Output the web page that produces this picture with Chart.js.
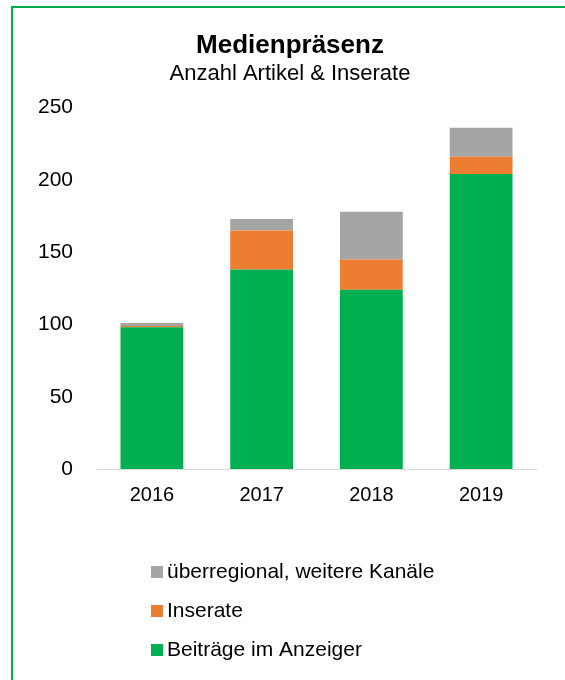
<!DOCTYPE html>
<html>
<head>
<meta charset="utf-8">
<script src="https://cdn.jsdelivr.net/npm/chart.js@4"></script>
<style>
  html, body { margin: 0; padding: 0; background: #fff; overflow: hidden; }
  #frame { position: absolute; left: 11px; top: 6px; width: 600px; height: 700px; border: 2px solid #00B050; box-sizing: border-box; }
  #c { position: absolute; left: 0; top: 0; }
</style>
</head>
<body>
<div id="frame"></div>
<canvas id="c" width="565" height="680"></canvas>
<script>
const years = ['2016', '2017', '2018', '2019'];
const beitraege = [98, 138, 124, 204];
const inserate = [1, 27, 21, 12];
const ueberregional = [2, 8, 33, 20];
const seriesNames = ['Beiträge im Anzeiger', 'Inserate', 'überregional, weitere Kanäle'];
const seriesColors = ['#00B050', '#ED7D31', '#A5A5A5'];
const yTicks = [0, 50, 100, 150, 200, 250];

const FONT = "'Liberation Sans', Arial, sans-serif";

const verticalLegend = {
  id: 'verticalLegend',
  afterLayout(chart) {
    // widen the y-axis label area so tick labels are not clipped
    chart.scales.y.left = 20;
  },
  afterDraw(chart) {
    const ctx = chart.ctx;
    const ds = chart.data.datasets.slice().reverse();
    ctx.save();
    ctx.font = '21px ' + FONT;
    ctx.textBaseline = 'middle';
    ctx.textAlign = 'left';
    ds.forEach((d, i) => {
      const cy = 572 + i * 39;
      ctx.fillStyle = d.backgroundColor;
      ctx.fillRect(151, cy - 6, 12, 12);
      ctx.fillStyle = '#000';
      ctx.fillText(d.label, 167, cy);
    });
    ctx.restore();
  }
};

new Chart(document.getElementById('c'), {
  type: 'bar',
  data: {
    labels: years,
    datasets: [
      { label: seriesNames[0], data: beitraege, backgroundColor: seriesColors[0] },
      { label: seriesNames[1], data: inserate, backgroundColor: seriesColors[1] },
      { label: seriesNames[2], data: ueberregional, backgroundColor: seriesColors[2] }
    ]
  },
  options: {
    responsive: false,
    animation: false,
    devicePixelRatio: 1,
    layout: { padding: { left: 44, right: 29, top: 0, bottom: 159 } },
    datasets: { bar: { categoryPercentage: 1, barPercentage: 0.572 } },
    plugins: {
      legend: { display: false },
      tooltip: { enabled: false },
      title: {
        display: true,
        text: 'Medienpräsenz',
        color: '#000',
        font: { family: FONT, size: 26, weight: 'bold', lineHeight: 1.2 },
        padding: { top: 30, bottom: 0 }
      },
      subtitle: {
        display: true,
        text: 'Anzahl Artikel & Inserate',
        color: '#000',
        font: { family: FONT, size: 22, lineHeight: 1.2 },
        padding: { top: 0, bottom: 20 }
      }
    },
    scales: {
      x: {
        stacked: true,
        grid: { display: false, drawTicks: false },
        border: { display: true, color: '#D9D9D9', width: 1 },
        ticks: { color: '#000', font: { family: FONT, size: 20 }, padding: 14 }
      },
      y: {
        stacked: true,
        min: 0,
        max: 250,
        afterFit(scale) { scale.width = 53; },
        afterBuildTicks(scale) { scale.ticks = yTicks.map(v => ({ value: v })); },
        grid: { display: false, drawTicks: false },
        border: { display: false },
        ticks: { color: '#000', font: { family: FONT, size: 21 }, padding: 24 }
      }
    }
  },
  plugins: [verticalLegend]
});
</script>
</body>
</html>
